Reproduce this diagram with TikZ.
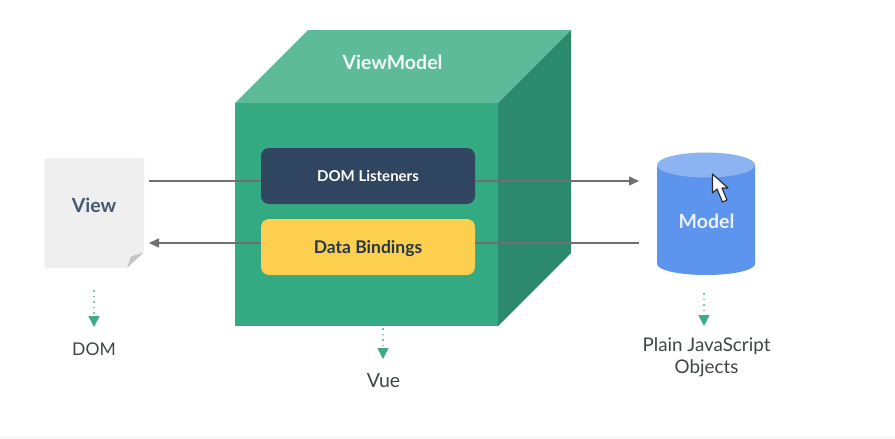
\documentclass[tikz,border=0pt]{standalone}
\usepackage{fontspec}
\setmainfont{Lato}
\usetikzlibrary{arrows.meta}
\definecolor{cubefront}{HTML}{34AA82}
\definecolor{cubetop}{HTML}{5EBB9A}
\definecolor{cubeside}{HTML}{2C8A6C}
\definecolor{navybox}{HTML}{2F4560}
\definecolor{yellowbox}{HTML}{FDCF4E}
\definecolor{paper}{HTML}{EFEFF0}
\definecolor{foldc}{HTML}{C4C4C4}
\definecolor{blueb}{HTML}{5C94EE}
\definecolor{bluet}{HTML}{8DB4F2}
\definecolor{linec}{HTML}{6F6F6F}
\definecolor{labelc}{HTML}{3F4447}
\definecolor{dotc}{HTML}{3DAA88}
\tikzset{
  inner/.style={minimum width=214pt,minimum height=56pt,rounded corners=8pt,inner sep=0pt,font=\bfseries\fontsize{15}{16}\selectfont},
  link/.style={draw=linec,line width=1.5pt},
  linkarrow/.style={link,-{Triangle[length=10pt,width=9pt]}},
  dots/.style={draw=dotc!70,line width=1.3pt,dash pattern=on 1.5pt off 4pt,-{Triangle[length=11pt,width=11pt,color=dotc]}},
  caption/.style={text=labelc,font=\fontsize{17.5}{20}\selectfont,inner sep=0pt},
  title/.style={font=\bfseries\fontsize{19.5}{20}\selectfont,inner sep=0pt}
}
\begin{document}
\begin{tikzpicture}[x=1pt,y=-1pt]
\useasboundingbox (0,0) rectangle (895,439);
\fill[white] (0,0) rectangle (895,439);
\fill[black!3] (0,436) rectangle (895,439);
% cube
\fill[cubetop] (235,103) -- (308,30) -- (571,30) -- (498,103) -- cycle;
\fill[cubeside] (498,103) -- (571,30) -- (571,253) -- (498,326) -- cycle;
\fill[cubefront] (235,103) rectangle (498,326);
\node[title,text=white!92!cubetop] (vm) at (392.5,62) {ViewModel};
% inner boxes
\node[inner,fill=navybox,text=white] (dom) at (368,176) {\smash{\raisebox{-5.4pt}{DOM Listeners}}};
\node[inner,fill=yellowbox,text=navybox!80!black,font=\bfseries\fontsize{17.5}{18}\selectfont] (data) at (368,247) {\smash{\raisebox{-6.2pt}{Data Bindings}}};
% view
\fill[paper,rounded corners=1.5pt] (44.5,158) -- (144,158) -- (144,252) -- (127,268) -- (44.5,268) -- cycle;
\fill[foldc] (127,268) -- (143.5,252.5) -- (131,256.5) -- cycle;
\node[title,text=navybox!90!white] (view) at (94,205.5) {View};
% model
\fill[blueb] (657,165) -- (657,264) arc[start angle=180,end angle=0,x radius=49,y radius=11] -- (755,165) -- cycle;
\fill[bluet] (706,165) ellipse[x radius=49,y radius=12.5];
\node[title,text=white!88!blueb] (model) at (706.5,221) {Model};
% cursor
\draw[black!85,fill=white,line width=1.1pt,line join=round] (712.5,174) -- (712.5,193) -- (717,189) -- (722.5,202) -- (727,200) -- (722,188) -- (728,188) -- cycle;
% connectors
\coordinate (viewout) at (149,181);
\coordinate (viewin) at (149,243);
\coordinate (modelin) at (639,181);
\coordinate (modelout) at (639,243);
\draw[link] (viewout) -- (viewout -| dom.west);
\draw[linkarrow] (dom.east |- modelin) -- (modelin);
\draw[link] (modelout) -- (modelout -| data.east);
\draw[linkarrow] (data.west |- viewin) -- (viewin);
% captions
\node[caption] (domlabel) at (94,349.5) {DOM};
\node[caption,font=\fontsize{19.5}{20}\selectfont] (vuelabel) at (383.5,381) {Vue};
\node[caption,align=center,font=\fontsize{18.8}{20}\selectfont] (plainlabel) at (706.5,357) {Plain JavaScript\\[2pt]Objects};
\coordinate (a1) at (94,290); \coordinate (a2) at (94,327);
\coordinate (b1) at (383,328); \coordinate (b2) at (383,359);
\coordinate (c1) at (704,293); \coordinate (c2) at (704,326);
\draw[dots] (a1) -- (a2);
\draw[dots] (b1) -- (b2);
\draw[dots] (c1) -- (c2);
\end{tikzpicture}
\end{document}
